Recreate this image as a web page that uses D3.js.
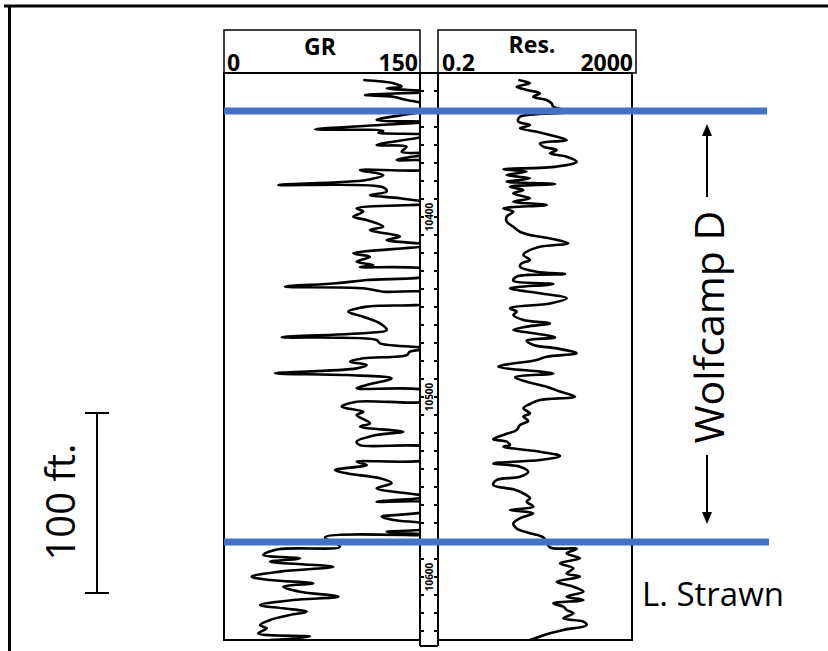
<!DOCTYPE html>
<html><head><meta charset="utf-8">
<script src="https://cdn.jsdelivr.net/npm/d3@7"></script>
<style>body{margin:0;background:#fff}svg{display:block}</style>
</head><body><svg id="c" width="828" height="651"></svg>
<script>
// ---------------- DATA ----------------
const trackNames = ["GR", "Res."];
const grScaleLabels = ["0", "150"];
const resScaleLabels = ["0.2", "2000"];
const depthLabels = [10400, 10500, 10600];
const topNames = ["Wolfcamp D", "L. Strawn"];
const topDepths = [10341.1, 10580.6];
const scaleBarFeet = 100;

const grDepth = [10323.9,10325.7,10327.6,10328.5,10330.4,10332.2,10333.2,10335.0,10337.8,10339.6,
10346.1,10347.1,10348.9,10351.3,10352.1,10353.2,10354.4,10360.0,10360.9,10363.7,10364.6,10368.3,10369.3,
10372.9,10373.9,10376.7,10379.4,10382.2,10383.5,10385.9,10387.8,10389.6,10392.4,10395.2,10397.0,10399.8,
10401.7,10405.4,10407.2,10410.9,10412.8,10415.6,10420.2,10422.1,10424.8,10426.7,10427.8,10429.4,10432.2,
10435.0,10436.8,10438.7,10439.6,10441.5,10442.4,10447.0,10449.8,10452.6,10455.4,10459.1,10462.8,10464.3,
10466.8,10468.3,10470.2,10473.0,10474.8,10476.7,10478.5,10480.4,10482.2,10484.1,10486.8,10487.8,10489.6,
10493.3,10495.2,10497.0,10501.7,10502.6,10505.4,10508.2,10510.0,10514.6,10516.5,10519.3,10521.1,10524.8,
10526.7,10528.5,10534.1,10535.9,10537.8,10540.6,10542.4,10545.2,10547.9,10550.7,10553.5,10555.4,10558.2,
10559.1,10562.8,10566.5,10568.3,10571.1,10572.9,10574.8,10576.7,10577.9,10583.2,10584.6,10587.8,10589.6,
10591.5,10594.3,10597.0,10599.8,10601.7,10603.5,10605.4,10608.2,10610.9,10612.8,10615.6,10617.4,10619.3,
10621.1,10623.9,10626.7,10628.5,10631.3,10633.1,10635.0];
const grValue = [106.6,129.6,136,124.5,158,107.9,129.6,139.8,158,160,
116.8,158,119.4,69.6,121.9,118.1,158,116.8,139.8,136,158,132.2,158,
160,104.1,121.9,109.2,41.6,121.9,124.5,111.7,134.7,158,101.5,106.6,99,
109.2,121.9,111.7,134.7,124.5,158,99,111.7,101.5,114.3,104,158,158,
109.2,86.2,46.7,106.6,121.9,158,160,109.2,95.1,106.6,119.4,124.5,111.7,
44.1,116.8,119.4,158,142.3,139.8,106.6,96.4,109.2,101.5,39,93.9,128.3,
109.2,101.5,158,158,101.5,90,106.6,101.5,111.7,104.1,137.2,116.8,101.5,
104,158,158,101.5,109.2,84.9,93.9,119.4,128.3,116.8,139.8,158,116.8,
158,158,120.7,129.6,158,158,124.5,158,77.3,88.8,41.6,30.1,58.2,
35.2,83.7,42.9,21.2,35.2,68.4,45.4,58.2,87.5,53,27.6,45.4,63.3,
50.5,35.2,27.6,32.7,26.3,65.8,35.2];

const resDepth = [10323.9,10325.7,10327.6,10329.4,10331.3,10333.2,10335.0,10336.9,10338.7,10341.5,
10344.3,10347.0,10348.9,10350.7,10352.6,10354.4,10357.2,10359.1,10360.9,10362.8,10364.6,10366.5,10369.3,
10372.0,10373.5,10374.8,10376.7,10378.5,10380.4,10381.7,10383.2,10385.0,10386.9,10389.6,10391.5,10393.3,
10395.2,10397.0,10399.8,10402.6,10405.4,10408.2,10410.0,10411.9,10414.6,10416.5,10419.3,10421.1,10423.9,
10425.7,10427.6,10430.4,10431.7,10433.1,10435.4,10437.2,10439.6,10442.4,10445.2,10448.0,10450.7,10452.6,
10454.4,10457.2,10459.1,10460.9,10462.8,10464.3,10466.9,10468.7,10471.1,10473.0,10475.7,10477.6,10479.4,
10483.1,10485.9,10486.9,10489.1,10491.5,10494.3,10497.0,10499.8,10501.7,10503.9,10506.3,10509.1,10510.9,
10513.2,10515.6,10518.3,10521.1,10523.5,10524.8,10526.7,10527.6,10530.4,10532.8,10535.0,10536.9,10538.7,
10541.5,10544.3,10546.1,10548.9,10551.3,10553.5,10556.3,10558.1,10560.9,10562.8,10564.6,10567.4,10570.2,
10573.0,10575.7,10578.0,10583.5,10584.3,10586.9,10589.6,10592.4,10595.2,10598.0,10599.8,10602.6,10605.4,
10608.1,10610.9,10612.8,10614.6,10616.5,10618.3,10620.2,10623.0,10624.8,10626.7,10629.4,10631.3,10633.1,10635.0];
const resValue = [8.57,15,7.91,12.8,24.2,17.6,33.4,42.4,45.9,102,
9.28,8.57,15,9.28,20.7,39.1,87,24.2,28.4,53.9,39.1,87,141,
53.9,4.17,12.8,4.9,15,4.9,49.8,5.74,10.9,6.74,15,6.74,33.4,
4.17,6.74,4.9,4.9,6.74,9.28,15,39.1,94.4,24.2,12.8,10.9,15,
10.05,9.28,20.7,80.3,7.91,6.74,45.9,5.74,24.2,87,39.1,5.74,7.91,
6.74,10.9,39.1,12.8,6.74,15,49.8,12.8,17.6,53.9,141,33.4,20.7,
3.28,24.2,45.9,7.3,12.8,33.4,63.2,130,24.2,15,10.9,15,10.9,
13.8,9.28,7.91,4.17,2.58,4.9,5.74,4.17,24.2,63.2,24.2,2.58,9.28,
13.8,9.28,3.03,2.58,6.74,10.9,15,12.8,17.6,5.74,17.6,9.28,6.74,
7.91,15,28.4,39.1,141,87,165,63.2,120,87,165,53.9,120,
194,87,194,45.9,74.2,87,120,74.2,194,227,74.2,39.1,24.2,15];

// ---------------- CHART ----------------
const svg = d3.select("#c");
const font = "'Open Sans', 'DejaVu Sans', sans-serif";
const blue = "#4472C4";

const y = d3.scaleLinear().domain([10320, 10635]).range([73, 640]);
const xGR = d3.scaleLinear().domain([0, 150]).range([224, 420]);
const xRes = d3.scaleLog().domain([0.2, 2000]).range([440, 632]);

const defs = svg.append("defs");
defs.append("clipPath").attr("id", "clipGR").append("rect")
  .attr("x", 224).attr("y", 73).attr("width", 196).attr("height", 567);
defs.append("clipPath").attr("id", "clipRes").append("rect")
  .attr("x", 438).attr("y", 73).attr("width", 194).attr("height", 567);

// outer frame
svg.append("line").attr("x1", 4).attr("x2", 828).attr("y1", 6).attr("y2", 6)
  .attr("stroke", "#000").attr("stroke-width", 3);
svg.append("line").attr("x1", 9.5).attr("x2", 9.5).attr("y1", 5).attr("y2", 651)
  .attr("stroke", "#000").attr("stroke-width", 3);

// curves
const grData = grDepth.map((d, i) => [d, grValue[i]]);
const resData = resDepth.map((d, i) => [d, resValue[i]]);
const lineGR = d3.line().x(d => xGR(d[1])).y(d => y(d[0])).curve(d3.curveCatmullRom.alpha(0.5));
const lineRes = d3.line().x(d => xRes(d[1])).y(d => y(d[0])).curve(d3.curveCatmullRom.alpha(0.5));
svg.append("path").attr("clip-path", "url(#clipGR)").attr("d", lineGR(grData))
  .attr("fill", "none").attr("stroke", "#000").attr("stroke-width", 2.6).attr("stroke-linejoin", "round");
svg.append("path").attr("clip-path", "url(#clipRes)").attr("d", lineRes(resData))
  .attr("fill", "none").attr("stroke", "#000").attr("stroke-width", 2.6).attr("stroke-linejoin", "round");

// track frames
const frame = (x, yy, w, h, sw) => svg.append("rect").attr("x", x).attr("y", yy).attr("width", w).attr("height", h)
  .attr("fill", "none").attr("stroke", "#000").attr("stroke-width", sw);
frame(224, 30, 196, 43, 1.5);
frame(438, 30, 198, 43, 1.5);
frame(224, 73, 196, 567, 2);
frame(438, 73, 194, 567, 2);
svg.append("line").attr("x1", 420).attr("x2", 438).attr("y1", 73).attr("y2", 73).attr("stroke", "#000").attr("stroke-width", 2);
svg.append("line").attr("x1", 420).attr("x2", 420).attr("y1", 73).attr("y2", 646).attr("stroke", "#000").attr("stroke-width", 2);
svg.append("line").attr("x1", 438).attr("x2", 438).attr("y1", 73).attr("y2", 646).attr("stroke", "#000").attr("stroke-width", 2);
svg.append("line").attr("x1", 420).attr("x2", 438).attr("y1", 646).attr("y2", 646).attr("stroke", "#000").attr("stroke-width", 2);

// depth ticks
const ticks = d3.range(10330, 10636, 10);
svg.append("g").selectAll("line.l").data(ticks).join("line")
  .attr("x1", 420).attr("x2", 424).attr("y1", d => y(d)).attr("y2", d => y(d))
  .attr("stroke", "#000").attr("stroke-width", 2);
svg.append("g").selectAll("line.r").data(ticks).join("line")
  .attr("x1", 434).attr("x2", 438).attr("y1", d => y(d)).attr("y2", d => y(d))
  .attr("stroke", "#000").attr("stroke-width", 2);
svg.append("g").selectAll("text").data(depthLabels).join("text")
  .attr("transform", d => `translate(429,${y(d)}) rotate(-90)`)
  .attr("text-anchor", "middle").attr("dominant-baseline", "central")
  .attr("font-family", font).attr("font-weight", "bold").attr("font-size", 10)
  .text(d => d);

// headers
const hdr = (t, x, yy, anchor, size) => svg.append("text").attr("x", x).attr("y", yy)
  .attr("text-anchor", anchor).attr("font-family", font).attr("font-weight", "bold")
  .attr("font-size", size).text(t);
hdr(trackNames[0], 320, 55, "middle", 23);
hdr(grScaleLabels[0], 227, 71, "start", 23);
hdr(grScaleLabels[1], 418, 71, "end", 23);
hdr(trackNames[1], 532, 53, "middle", 23);
hdr(resScaleLabels[0], 442, 71, "start", 23);
hdr(resScaleLabels[1], 633, 71, "end", 23);

// formation tops
svg.append("line").attr("x1", 224).attr("x2", 767).attr("y1", y(topDepths[0])).attr("y2", y(topDepths[0]))
  .attr("stroke", blue).attr("stroke-width", 7);
svg.append("line").attr("x1", 224).attr("x2", 769).attr("y1", y(topDepths[1])).attr("y2", y(topDepths[1]))
  .attr("stroke", blue).attr("stroke-width", 7);

// Wolfcamp D label with arrows
const ax = 707;
svg.append("line").attr("x1", ax).attr("x2", ax).attr("y1", 134).attr("y2", 197).attr("stroke", "#000").attr("stroke-width", 2);
svg.append("path").attr("d", `M${ax},124 L${ax-5},136 L${ax+5},136 Z`).attr("fill", "#000");
svg.append("line").attr("x1", ax).attr("x2", ax).attr("y1", 455).attr("y2", 514).attr("stroke", "#000").attr("stroke-width", 2);
svg.append("path").attr("d", `M${ax},524 L${ax-5},512 L${ax+5},512 Z`).attr("fill", "#000");
svg.append("text").attr("transform", `translate(724,327) rotate(-90)`)
  .attr("text-anchor", "middle").attr("font-family", font).attr("font-size", 41).text(topNames[0]);

svg.append("text").attr("x", 642).attr("y", 606).attr("font-family", font).attr("font-size", 33).text(topNames[1]);

// scale bar
const sb0 = 413, sbLen = y(10500 + scaleBarFeet) - y(10500);
svg.append("line").attr("x1", 97).attr("x2", 97).attr("y1", sb0).attr("y2", sb0 + sbLen).attr("stroke", "#000").attr("stroke-width", 2);
svg.append("line").attr("x1", 85).attr("x2", 109).attr("y1", sb0).attr("y2", sb0).attr("stroke", "#000").attr("stroke-width", 2);
svg.append("line").attr("x1", 85).attr("x2", 109).attr("y1", sb0 + sbLen).attr("y2", sb0 + sbLen).attr("stroke", "#000").attr("stroke-width", 2);
svg.append("text").attr("transform", `translate(75,502) rotate(-90)`)
  .attr("text-anchor", "middle").attr("font-family", font).attr("font-size", 40).text(scaleBarFeet + " ft.");
</script>
</body></html>
